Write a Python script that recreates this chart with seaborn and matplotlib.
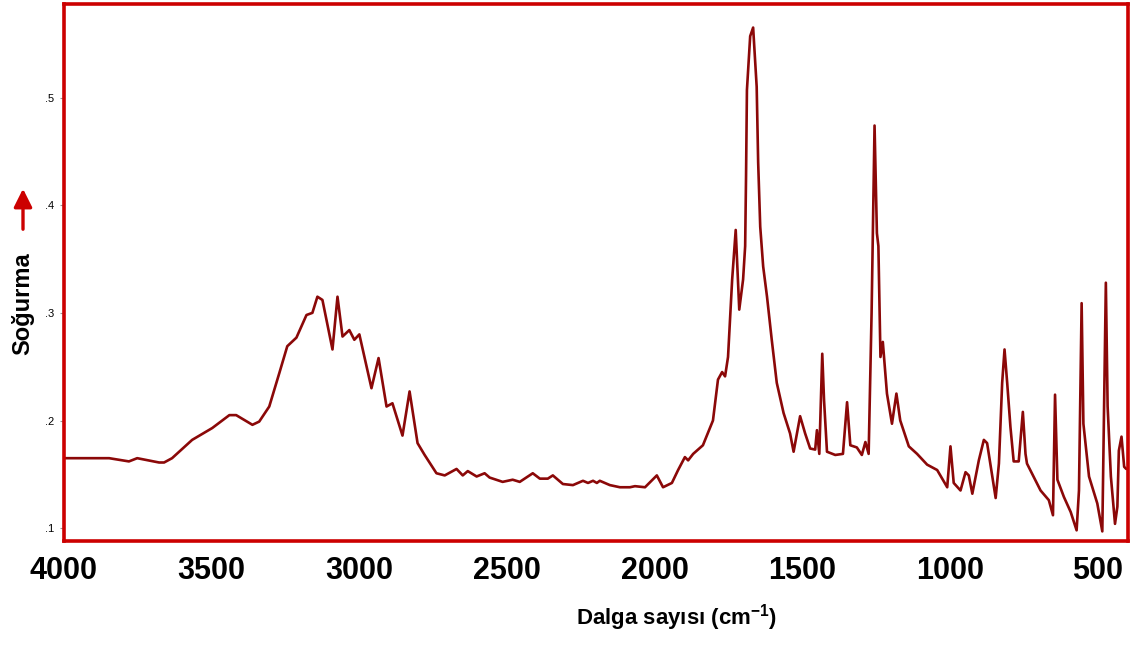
import numpy as np
import pandas as pd
import matplotlib
matplotlib.use('Agg')
import matplotlib.pyplot as plt
from matplotlib.ticker import FuncFormatter
import seaborn as sns

# IR spectrum (wavenumber in cm-1, absorbance)
wavenumber = [4000, 3847, 3780, 3752, 3678, 3661, 3634, 3566, 3498, 3440, 3417, 3362, 3339,
              3305, 3271, 3244, 3213, 3179, 3159, 3142, 3125, 3091, 3074, 3057, 3034, 3017,
              3000, 2959, 2935, 2908, 2888, 2854, 2830, 2803, 2779, 2739, 2711, 2671, 2650,
              2633, 2603, 2576, 2559, 2515, 2481, 2457, 2413, 2389, 2362, 2345, 2311, 2277,
              2243, 2226, 2209, 2196, 2186, 2152, 2118, 2084, 2067, 2033, 1993, 1972, 1942,
              1921, 1898, 1887, 1870, 1837, 1803, 1786, 1772, 1762, 1752, 1738, 1726, 1714,
              1701, 1694, 1691, 1688, 1677, 1667, 1655, 1650, 1643, 1633, 1620, 1604, 1587,
              1564, 1542, 1530, 1508, 1491, 1474, 1457, 1451, 1443, 1433, 1427, 1417, 1389,
              1363, 1349, 1338, 1316, 1299, 1287, 1276, 1266, 1256, 1248, 1243, 1236, 1228,
              1223, 1214, 1197, 1182, 1169, 1140, 1112, 1078, 1044, 1010, 999, 988, 965,
              948, 937, 925, 903, 886, 875, 846, 835, 824, 816, 807, 796, 785, 768, 762,
              754, 745, 740, 694, 666, 652, 645, 637, 615, 592, 572, 564, 555, 549, 530,
              502, 485, 473, 467, 456, 442, 434, 429, 420, 411, 404]
absorbance = [0.165, 0.165, 0.162, 0.165, 0.161, 0.161, 0.165, 0.182, 0.193, 0.205, 0.205, 0.196, 0.199,
              0.213, 0.244, 0.269, 0.277, 0.298, 0.300, 0.315, 0.312, 0.266, 0.315, 0.278, 0.284, 0.275,
              0.280, 0.230, 0.258, 0.213, 0.216, 0.186, 0.227, 0.179, 0.168, 0.151, 0.149, 0.155, 0.149,
              0.153, 0.148, 0.151, 0.147, 0.143, 0.145, 0.143, 0.151, 0.146, 0.146, 0.149, 0.141, 0.140,
              0.144, 0.142, 0.144, 0.142, 0.144, 0.140, 0.138, 0.138, 0.139, 0.138, 0.149, 0.138, 0.142,
              0.154, 0.166, 0.163, 0.169, 0.177, 0.200, 0.238, 0.245, 0.241, 0.259, 0.331, 0.377, 0.303,
              0.331, 0.362, 0.427, 0.507, 0.557, 0.565, 0.510, 0.440, 0.380, 0.343, 0.315, 0.275, 0.235,
              0.207, 0.188, 0.171, 0.204, 0.188, 0.174, 0.173, 0.191, 0.169, 0.262, 0.219, 0.171, 0.168,
              0.169, 0.217, 0.177, 0.175, 0.168, 0.180, 0.169, 0.300, 0.474, 0.374, 0.362, 0.259, 0.273,
              0.256, 0.225, 0.197, 0.225, 0.200, 0.176, 0.169, 0.159, 0.154, 0.138, 0.176, 0.142, 0.135,
              0.152, 0.149, 0.132, 0.163, 0.182, 0.179, 0.128, 0.160, 0.235, 0.266, 0.235, 0.194, 0.162, 0.162, 0.182,
              0.208, 0.169, 0.160, 0.135, 0.126, 0.112, 0.224, 0.145, 0.129, 0.115, 0.098, 0.135, 0.309, 0.197, 0.148,
              0.123, 0.097, 0.328, 0.213, 0.148, 0.104, 0.120, 0.172, 0.185, 0.157, 0.155]

x_ticks = [4000, 3500, 3000, 2500, 2000, 1500, 1000, 500]
y_ticks = [0.1, 0.2, 0.3, 0.4, 0.5]

df = pd.DataFrame({'wn': wavenumber, 'abs': absorbance})

sns.set_style('white')
plt.rcParams['font.family'] = ['Liberation Sans', 'DejaVu Sans']
plt.rcParams['text.color'] = 'black'
plt.rcParams['mathtext.fontset'] = 'custom'
plt.rcParams['mathtext.rm'] = 'Liberation Sans:bold'
plt.rcParams['mathtext.default'] = 'regular'

fig = plt.figure(figsize=(11.46, 6.48), dpi=100)
ax = fig.add_axes([0.0558, 0.165, 0.9285, 0.829])

sns.lineplot(data=df, x='wn', y='abs', ax=ax, color='#8b0808', linewidth=1.9,
             estimator=None, sort=False)

ax.set_xlim(4000, 398)
ax.set_ylim(0.088, 0.587)
ax.set_xticks(x_ticks)
ax.set_yticks(y_ticks)
ax.yaxis.set_major_formatter(FuncFormatter(lambda v, p: f'{v:.1f}'.lstrip('0')))

for s in ax.spines.values():
    s.set_color('#cc0000')
    s.set_linewidth(2.6)

ax.tick_params(axis='x', length=6, width=1.5, color='black', labelcolor='black', pad=5, labelsize=22)
ax.tick_params(axis='y', left=True, length=3, width=0.8, color='#999999', labelcolor='black',
               pad=4, labelsize=8)
for lab in ax.get_xticklabels():
    lab.set_fontweight('bold')

ax.set_xlabel('')
ax.set_ylabel('')
fig.text(677 / 1146, 1 - 618 / 648, 'Dalga sayısı (cm$^{-1}$)', ha='center', va='center',
         fontsize=16, fontweight='bold', color='black')
fig.text(23 / 1146, 1 - 304 / 648, 'Soğurma', ha='center', va='center', rotation=90,
         fontsize=17, fontweight='bold', color='black')
fig.add_artist(matplotlib.patches.FancyArrowPatch(
    (23 / 1146, 1 - 232 / 648), (23 / 1146, 1 - 186 / 648), transform=fig.transFigure,
    arrowstyle='-|>,head_length=11,head_width=5.5', color='#cc0000', linewidth=2.4))

fig.savefig('out.png', dpi=100)
plt.close(fig)
